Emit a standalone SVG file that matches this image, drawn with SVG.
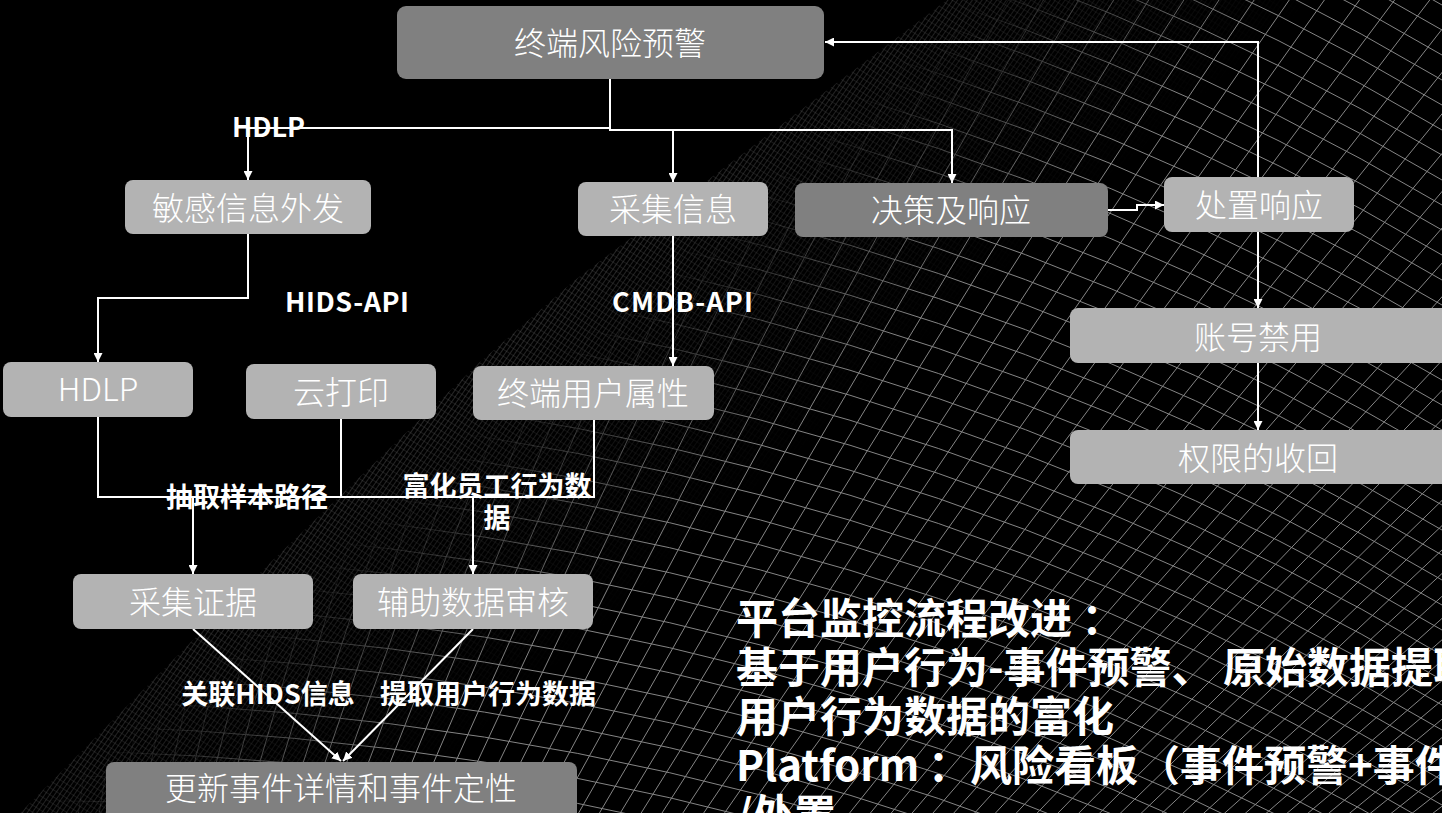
<svg xmlns="http://www.w3.org/2000/svg" width="1442" height="813" viewBox="0 0 1442 813">
<defs>
<style>
.nl{fill:#b3b3b3}
.nd{fill:#808080}
.nt{font-family:"Noto Sans CJK SC","Noto Sans",sans-serif;font-size:32px;font-weight:300;fill:#fff;text-anchor:middle}
.lbl{font-family:"Noto Sans CJK SC","Noto Sans",sans-serif;font-size:27px;font-weight:bold;fill:#fff}
.mid{text-anchor:middle}
.conn{fill:none;stroke:#fff;stroke-width:2}
.big{font-family:"Noto Sans CJK SC","Noto Sans",sans-serif;font-size:42px;font-weight:bold;fill:#fff}
.mesh{fill:none;stroke:#858585;stroke-width:1}
</style>
<marker id="arr" viewBox="0 0 10 10" refX="10" refY="5" markerWidth="9" markerHeight="9" markerUnits="userSpaceOnUse" orient="auto"><path d="M0,0L10,5L0,10z" fill="#fff"/></marker>
<clipPath id="meshClip"><polygon points="20,813 273,560 480,362 575,280 947,0 1442,0 1442,813"/></clipPath>
<pattern id="fineA" width="4" height="4" patternUnits="userSpaceOnUse" patternTransform="rotate(35)"><path d="M0,0V4" stroke="#505050" stroke-width="1"/></pattern>
<pattern id="fineB" width="6" height="6" patternUnits="userSpaceOnUse" patternTransform="rotate(-58)"><path d="M0,0V6" stroke="#333" stroke-width="1"/></pattern>
<linearGradient id="gFine" gradientUnits="userSpaceOnUse" x1="575" y1="280" x2="760" y2="490"><stop offset="0" stop-color="#fff"/><stop offset="1" stop-color="#000"/></linearGradient>
<linearGradient id="gCoarse" gradientUnits="userSpaceOnUse" x1="601" y1="310" x2="740" y2="470"><stop offset="0" stop-color="#000"/><stop offset="1" stop-color="#fff"/></linearGradient>
<mask id="mFine" maskUnits="userSpaceOnUse" x="0" y="0" width="1442" height="813"><rect width="1442" height="813" fill="url(#gFine)"/></mask>
<mask id="mCoarse" maskUnits="userSpaceOnUse" x="0" y="0" width="1442" height="813"><rect width="1442" height="813" fill="url(#gCoarse)"/></mask>
</defs>

<rect width="1442" height="813" fill="#000"/>

<g id="background-mesh" clip-path="url(#meshClip)">
<g mask="url(#mFine)">
<rect width="1442" height="813" fill="url(#fineB)"/>
<rect width="1442" height="813" fill="url(#fineA)"/>
</g>
<g mask="url(#mCoarse)" class="mesh">
<path d="M0,-375q800,0 1442,380M0,-350q800,0 1442,380M0,-325q800,0 1442,380M0,-300q800,0 1442,380M0,-275q800,0 1442,380M0,-250q800,0 1442,380M0,-225q800,0 1442,380M0,-200q800,0 1442,380M0,-175q800,0 1442,380M0,-150q800,0 1442,380M0,-125q800,0 1442,380M0,-100q800,0 1442,380M0,-75q800,0 1442,380M0,-50q800,0 1442,380M0,-25q800,0 1442,380M0,0q800,0 1442,380M0,25q800,0 1442,380M0,50q800,0 1442,380M0,75q800,0 1442,380M0,100q800,0 1442,380M0,125q800,0 1442,380M0,150q800,0 1442,380M0,175q800,0 1442,380M0,200q800,0 1442,380M0,225q800,0 1442,380M0,250q800,0 1442,380M0,275q800,0 1442,380M0,300q800,0 1442,380M0,325q800,0 1442,380M0,350q800,0 1442,380M0,375q800,0 1442,380M0,400q800,0 1442,380M0,425q800,0 1442,380M0,450q800,0 1442,380M0,475q800,0 1442,380M0,500q800,0 1442,380M0,525q800,0 1442,380M0,550q800,0 1442,380M0,575q800,0 1442,380M0,600q800,0 1442,380M0,625q800,0 1442,380M0,650q800,0 1442,380M0,675q800,0 1442,380M0,700q800,0 1442,380M0,725q800,0 1442,380M0,750q800,0 1442,380M0,775q800,0 1442,380M0,800q800,0 1442,380"/>
<path d="M-100,2000L100,-50M-100,2000L136,-50M-100,2000L172,-50M-100,2000L208,-50M-100,2000L244,-50M-100,2000L280,-50M-100,2000L316,-50M-100,2000L352,-50M-100,2000L388,-50M-100,2000L424,-50M-100,2000L460,-50M-100,2000L496,-50M-100,2000L532,-50M-100,2000L568,-50M-100,2000L604,-50M-100,2000L640,-50M-100,2000L676,-50M-100,2000L712,-50M-100,2000L748,-50M-100,2000L784,-50M-100,2000L820,-50M-100,2000L856,-50M-100,2000L892,-50M-100,2000L928,-50M-100,2000L964,-50M-100,2000L1000,-50M-100,2000L1036,-50M-100,2000L1072,-50M-100,2000L1108,-50M-100,2000L1144,-50M-100,2000L1180,-50M-100,2000L1216,-50M-100,2000L1252,-50M-100,2000L1288,-50M-100,2000L1324,-50M-100,2000L1360,-50M-100,2000L1396,-50M-100,2000L1432,-50M-100,2000L1468,-50M-100,2000L1504,-50M-100,2000L1540,-50M-100,2000L1576,-50M-100,2000L1612,-50M-100,2000L1648,-50M-100,2000L1684,-50M-100,2000L1720,-50M-100,2000L1756,-50M-100,2000L1792,-50M-100,2000L1828,-50M-100,2000L1864,-50M-100,2000L1900,-50M-100,2000L1936,-50M-100,2000L1972,-50M-100,2000L2008,-50M-100,2000L2044,-50M-100,2000L2080,-50M-100,2000L2116,-50M-100,2000L2152,-50M-100,2000L2188,-50M-100,2000L2224,-50M-100,2000L2260,-50M-100,2000L2296,-50M-100,2000L2332,-50M-100,2000L2368,-50M-100,2000L2404,-50M-100,2000L2440,-50M-100,2000L2476,-50M-100,2000L2512,-50M-100,2000L2548,-50M-100,2000L2584,-50"/>
</g>
</g>

<g id="connectors" class="conn">
<path d="M610,79V128H248V180" marker-end="url(#arr)"/>
<path d="M610,128V130H673V182" marker-end="url(#arr)"/>
<path d="M673,130H952V183" marker-end="url(#arr)"/>
<path d="M248,234V298H98V362" marker-end="url(#arr)"/>
<path d="M673,236V366" marker-end="url(#arr)"/>
<path d="M1108,210H1137V205H1164" marker-end="url(#arr)"/>
<path d="M1258,177V42H825" marker-end="url(#arr)"/>
<path d="M1258,232V308" marker-end="url(#arr)"/>
<path d="M1258,363V430" marker-end="url(#arr)"/>
<path d="M98,417V497H193V574" marker-end="url(#arr)"/>
<path d="M341,419V497H193"/>
<path d="M341,497H473"/>
<path d="M594,420V497H473V574" marker-end="url(#arr)"/>
<path d="M193,629L341,761" marker-end="url(#arr)"/>
<path d="M473,629L343,761" marker-end="url(#arr)"/>
</g>

<g id="node-alert"><rect class="nd" x="397" y="6" width="427" height="73" rx="9"/><text class="nt" x="610" y="55">终端风险预警</text></g>
<g id="node-leak"><rect class="nl" x="125" y="180" width="246" height="54" rx="8"/><text class="nt" x="248" y="220">敏感信息外发</text></g>
<g id="node-collect"><rect class="nl" x="578" y="182" width="190" height="54" rx="8"/><text class="nt" x="673" y="221">采集信息</text></g>
<g id="node-decide"><rect class="nd" x="795" y="183" width="313" height="54" rx="8"/><text class="nt" x="951" y="222">决策及响应</text></g>
<g id="node-dispose"><rect class="nl" x="1164" y="177" width="190" height="55" rx="8"/><text class="nt" x="1259" y="217">处置响应</text></g>
<g id="node-hdlp"><rect class="nl" x="3" y="362" width="190" height="55" rx="8"/><text class="nt" x="98" y="401">HDLP</text></g>
<g id="node-print"><rect class="nl" x="246" y="364" width="190" height="55" rx="8"/><text class="nt" x="341" y="404">云打印</text></g>
<g id="node-userattr"><rect class="nl" x="473" y="366" width="241" height="54" rx="8"/><text class="nt" x="593" y="405">终端用户属性</text></g>
<g id="node-disable"><rect class="nl" x="1070" y="308" width="380" height="55" rx="8"/><text class="nt" x="1258" y="349">账号禁用</text></g>
<g id="node-revoke"><rect class="nl" x="1070" y="430" width="380" height="54" rx="8"/><text class="nt" x="1258" y="470">权限的收回</text></g>
<g id="node-evidence"><rect class="nl" x="73" y="574" width="240" height="55" rx="8"/><text class="nt" x="193" y="614">采集证据</text></g>
<g id="node-audit"><rect class="nl" x="353" y="574" width="240" height="55" rx="8"/><text class="nt" x="473" y="614">辅助数据审核</text></g>
<g id="node-update"><rect class="nd" x="106" y="762" width="471" height="70" rx="8"/><text class="nt" x="341" y="800">更新事件详情和事件定性</text></g>

<g id="labels">
<text class="lbl" x="232" y="137" textLength="73">HDLP</text>
<text class="lbl" x="285" y="312" textLength="124">HIDS-API</text>
<text class="lbl" x="612" y="312" textLength="141">CMDB-API</text>
<text class="lbl mid" x="247" y="507">抽取样本路径</text>
<text class="lbl mid" x="497" y="496">富化员工行为数</text>
<text class="lbl mid" x="497" y="528">据</text>
<text class="lbl mid" x="268" y="704">关联HIDS信息</text>
<text class="lbl mid" x="488" y="704">提取用户行为数据</text>
</g>

<g id="summary" class="big">
<text x="736" y="634">平台监控流程改进 ：</text>
<text x="736" y="683">基于用户行为-事件预警、 原始数据提取</text>
<text x="736" y="732">用户行为数据的富化</text>
<text x="736" y="781">Platform<tspan x="928">：风险看板（事件预警+事件</tspan></text>
<text x="736" y="830">/处置</text>
</g>
</svg>
